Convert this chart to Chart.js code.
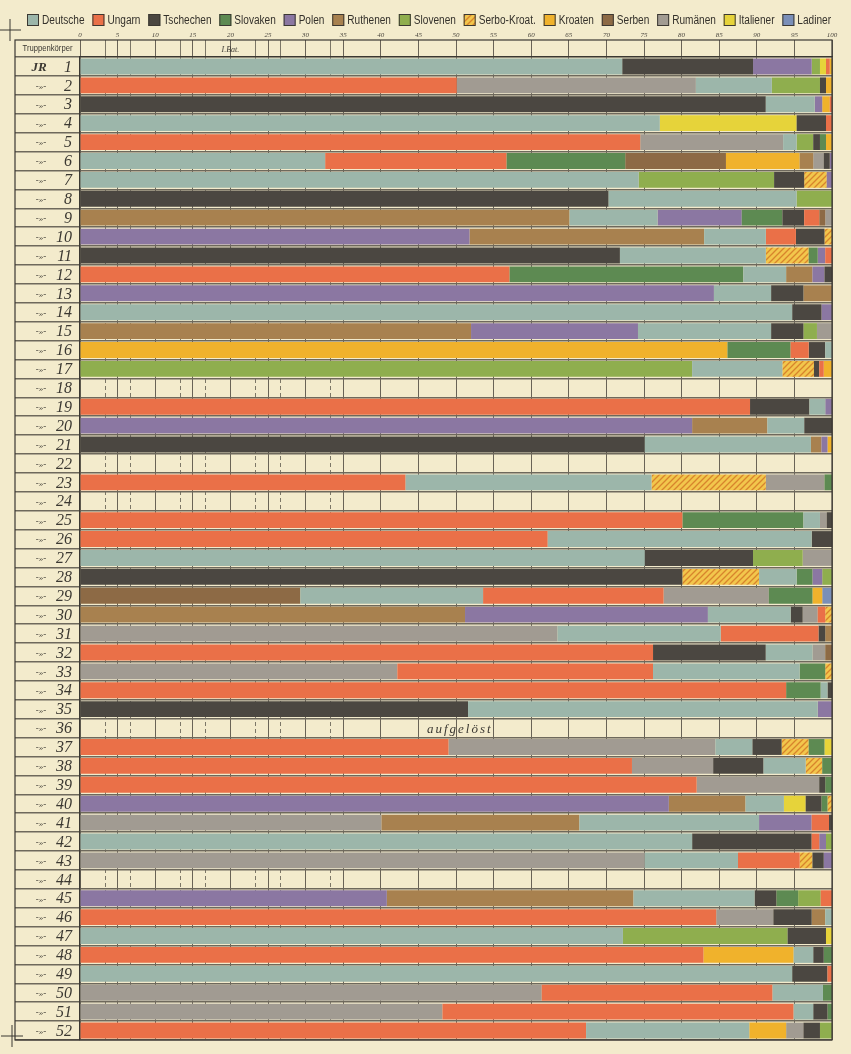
<!DOCTYPE html>
<html lang="de">
<head>
    <meta charset="UTF-8">
    <title>Nationalitäten der Truppenkörper</title>
    <script src="https://cdn.jsdelivr.net/npm/chart.js"></script>
    <style>
        html, body {
            margin: 0;
            padding: 0;
            background-color: #f3ebcc; /* old paper */
        }
        #wrap {
            position: relative;
            width: 851px;
            height: 1054px;
        }
    </style>
</head>
<body>
    <div id="wrap">
        <canvas id="chart"></canvas>
    </div>

    <script>
        // regiments IR 1 .. IR 52
        const regiments = Array.from({ length: 52 }, (_, i) => String(i + 1));

        const nations = ['Deutsche', 'Ungarn', 'Tschechen', 'Slovaken', 'Polen', 'Ruthenen', 'Slovenen',
                         'Serbo-Kroat.', 'Kroaten', 'Serben', 'Rumänen', 'Italiener', 'Ladiner'];
        const codes   = ['D', 'U', 'T', 'Sk', 'P', 'Ru', 'Sn', 'SK', 'K', 'Se', 'R', 'I', 'L'];

        // top scale ticks (per cent) and the dashed battalion scale
        const percentTicks = [0, 5, 10, 15, 20, 25, 30, 35, 40, 45, 50, 55, 60, 65, 70, 75, 80, 85, 90, 95, 100];
        const batTicks = [3.33, 6.67, 13.33, 16.67, 23.33, 26.67, 33.33];

        // order of the nationalities inside each bar, left to right
        const rowOrder = [
            ['D', 'T', 'P', 'Sn', 'I', 'U', 'K'],            // 1
            ['U', 'R', 'D', 'Sn', 'T', 'K'],                 // 2
            ['T', 'D', 'P', 'K', 'U'],                       // 3
            ['D', 'I', 'T', 'U'],                            // 4
            ['U', 'R', 'D', 'Sn', 'T', 'Sk', 'K'],           // 5
            ['D', 'U', 'Sk', 'Se', 'K', 'Ru', 'R', 'T', 'P'],// 6
            ['D', 'Sn', 'T', 'SK', 'P'],                     // 7
            ['T', 'D', 'Sn'],                                // 8
            ['Ru', 'D', 'P', 'Sk', 'T', 'U', 'Se', 'R'],     // 9
            ['P', 'Ru', 'D', 'U', 'T', 'SK'],                // 10
            ['T', 'D', 'SK', 'Sk', 'P', 'U'],                // 11
            ['U', 'Sk', 'D', 'Ru', 'P', 'T'],                // 12
            ['P', 'D', 'T', 'Ru'],                           // 13
            ['D', 'T', 'P'],                                 // 14
            ['Ru', 'P', 'D', 'T', 'Sn', 'R'],                // 15
            ['K', 'Sk', 'U', 'T', 'D'],                      // 16
            ['Sn', 'D', 'SK', 'T', 'U', 'K'],                // 17
            [],                                              // 18
            ['U', 'T', 'D', 'P'],                            // 19
            ['P', 'Ru', 'D', 'T'],                           // 20
            ['T', 'D', 'Ru', 'P', 'K'],                      // 21
            [],                                              // 22
            ['U', 'D', 'SK', 'R', 'Sk'],                     // 23
            [],                                              // 24
            ['U', 'Sk', 'D', 'R', 'T'],                      // 25
            ['U', 'D', 'T'],                                 // 26
            ['D', 'T', 'Sn', 'R'],                           // 27
            ['T', 'SK', 'D', 'Sk', 'P', 'Sn'],               // 28
            ['Se', 'D', 'U', 'R', 'Sk', 'K', 'L'],           // 29
            ['Ru', 'P', 'D', 'T', 'R', 'U', 'SK'],           // 30
            ['R', 'D', 'U', 'T', 'Ru'],                      // 31
            ['U', 'T', 'D', 'R', 'Se'],                      // 32
            ['R', 'U', 'D', 'Sk', 'SK'],                     // 33
            ['U', 'Sk', 'D', 'T'],                           // 34
            ['T', 'D', 'P'],                                 // 35
            [],                                              // 36 aufgelöst
            ['U', 'R', 'D', 'T', 'SK', 'Sk', 'I'],           // 37
            ['U', 'R', 'T', 'D', 'SK', 'Sk'],                // 38
            ['U', 'R', 'T', 'Sk'],                           // 39
            ['P', 'Ru', 'D', 'I', 'T', 'Sk', 'SK'],          // 40
            ['R', 'Ru', 'D', 'P', 'U', 'T'],                 // 41
            ['D', 'T', 'U', 'P', 'Sn'],                      // 42
            ['R', 'D', 'U', 'SK', 'T', 'P'],                 // 43
            [],                                              // 44
            ['P', 'Ru', 'D', 'T', 'Sk', 'Sn', 'U'],          // 45
            ['U', 'R', 'T', 'Ru', 'D'],                      // 46
            ['D', 'Sn', 'T', 'I'],                           // 47
            ['U', 'K', 'D', 'T', 'Sk'],                      // 48
            ['D', 'T', 'U'],                                 // 49
            ['R', 'U', 'D', 'Sk'],                           // 50
            ['R', 'U', 'D', 'T', 'Sk'],                      // 51
            ['U', 'D', 'K', 'R', 'T', 'Sn']                  // 52
        ];

        // shares in per cent, same order as rowOrder
        const rowShares = [
            [72.1, 17.4, 7.8, 1.1, 0.8, 0.5, 0.3],
            [50.1, 31.8, 10.1, 6.4, 0.8, 0.8],
            [91.2, 6.5, 1.0, 1.0, 0.3],
            [77.1, 18.2, 3.9, 0.8],
            [74.5, 19.0, 1.8, 2.2, 0.9, 0.8, 0.8],
            [32.6, 24.1, 15.8, 13.4, 9.8, 1.8, 1.4, 0.8, 0.3],
            [74.3, 18.0, 4.0, 3.0, 0.7],
            [70.3, 25.0, 4.7],
            [65.1, 11.7, 11.2, 5.4, 2.9, 2.0, 0.8, 0.9],
            [51.8, 31.2, 8.2, 4.0, 3.8, 1.0],
            [71.8, 19.4, 5.7, 1.2, 1.0, 0.9],
            [57.1, 31.1, 5.7, 3.5, 1.6, 1.0],
            [84.3, 7.6, 4.3, 3.8],
            [94.7, 3.9, 1.4],
            [52.0, 22.2, 17.7, 4.3, 1.8, 2.0],
            [86.1, 8.4, 2.4, 2.2, 0.9],
            [81.4, 12.0, 4.2, 0.7, 0.6, 1.1],
            [],
            [89.1, 7.9, 2.1, 0.9],
            [81.4, 10.0, 4.9, 3.7],
            [75.1, 22.1, 1.4, 0.8, 0.6],
            [],
            [43.3, 32.7, 15.2, 7.8, 1.0],
            [],
            [80.1, 16.1, 2.2, 0.9, 0.7],
            [62.2, 35.1, 2.7],
            [75.1, 14.4, 6.6, 3.9],
            [80.1, 10.2, 5.0, 2.1, 1.3, 1.3],
            [29.3, 24.3, 24.0, 14.0, 5.8, 1.3, 1.3],
            [51.2, 32.3, 11.0, 1.6, 2.0, 1.0, 0.9],
            [63.5, 21.7, 13.0, 0.9, 0.9],
            [76.2, 15.0, 6.2, 1.7, 0.9],
            [42.2, 34.0, 19.5, 3.4, 0.9],
            [93.9, 4.6, 0.9, 0.6],
            [51.6, 46.5, 1.9],
            [],
            [49.0, 35.5, 4.9, 3.9, 3.6, 2.1, 1.0],
            [73.4, 10.8, 6.7, 5.6, 2.2, 1.3],
            [82.0, 16.3, 0.8, 0.9],
            [78.3, 10.2, 5.1, 2.9, 2.1, 0.8, 0.6],
            [40.1, 26.3, 23.9, 7.0, 2.3, 0.4],
            [81.4, 15.9, 1.0, 0.9, 0.8],
            [75.1, 12.4, 8.2, 1.7, 1.5, 1.1],
            [],
            [40.8, 32.8, 16.1, 2.9, 2.9, 3.0, 1.5],
            [84.6, 7.6, 5.1, 1.8, 0.9],
            [72.2, 21.9, 5.1, 0.8],
            [82.9, 12.0, 2.6, 1.4, 1.1],
            [94.7, 4.7, 0.6],
            [61.4, 30.7, 6.7, 1.2],
            [48.2, 46.7, 2.6, 1.9, 0.6],
            [67.3, 21.7, 4.9, 2.3, 2.2, 1.6]
        ];

        const dissolved = { row: 35, text: 'aufgelöst' };

        // yellow with orange diagonal strokes for Serbo-Kroaten
        function hatchPattern() {
            const c = document.createElement('canvas');
            c.width = 6;
            c.height = 6;
            const g = c.getContext('2d');
            g.fillStyle = '#f2c64c';
            g.fillRect(0, 0, 6, 6);
            g.strokeStyle = '#d8842c';
            g.lineWidth = 1.3;
            g.beginPath();
            g.moveTo(0, 6); g.lineTo(6, 0);
            g.moveTo(-3, 3); g.lineTo(3, -3);
            g.moveTo(3, 9); g.lineTo(9, 3);
            g.stroke();
            return g.createPattern(c, 'repeat');
        }

        const colors = {
            D: '#9cb6aa', U: '#ea7048', T: '#4b4741', Sk: '#5d8a52', P: '#8b77a2',
            Ru: '#a8814f', Sn: '#8fae4e', SK: hatchPattern(), K: '#f0b22c', Se: '#8d6a45',
            R: '#a19b92', I: '#e6d33a', L: '#7a8fb8'
        };

        // floating bar [start, end] for every nationality in every regiment
        const datasets = codes.map((code, n) => ({
            label: nations[n],
            data: rowOrder.map((order, i) => {
                const k = order.indexOf(code);
                if (k < 0) return null;
                const start = rowShares[i].slice(0, k).reduce((a, b) => a + b, 0);
                return [start, start + rowShares[i][k]];
            }),
            backgroundColor: colors[code],
            borderWidth: 0,
            barPercentage: 0.84,
            categoryPercentage: 1.0,
            grouped: false
        }));

        const ink = '#3b3832';
        const serif = "'Liberation Serif', 'DejaVu Serif', serif";
        const sans = "'Liberation Sans', Arial, sans-serif";

        // one-line legend with condensed lettering, spread over the sheet width
        const sheetLegend = {
            id: 'sheetLegend',
            afterDraw(chart) {
                const { ctx, scales: { x, y } } = chart;
                const box = 12, gapText = 3, squeeze = 0.84;
                const cy = x.top - 13;
                ctx.save();
                ctx.font = '12px ' + sans;
                ctx.textBaseline = 'middle';
                const items = chart.data.datasets.map(ds => ({
                    label: ds.label, color: ds.backgroundColor,
                    w: ctx.measureText(ds.label).width * squeeze
                }));
                const x0 = y.left + 12, x1 = x.right - 1;
                const used = items.reduce((s, it) => s + box + gapText + it.w, 0);
                const gap = (x1 - x0 - used) / (items.length - 1);
                let px = x0;
                items.forEach(it => {
                    ctx.fillStyle = it.color;
                    ctx.fillRect(px, cy - box / 2, box, box);
                    ctx.strokeStyle = ink;
                    ctx.lineWidth = 1;
                    ctx.strokeRect(px + 0.5, cy - box / 2 + 0.5, box - 1, box - 1);
                    ctx.save();
                    ctx.translate(px + box + gapText, cy);
                    ctx.scale(squeeze, 1);
                    ctx.fillStyle = '#34312b';
                    ctx.fillText(it.label, 0, 1);
                    ctx.restore();
                    px += box + gapText + it.w + gap;
                });
                ctx.restore();
            }
        };

        // label column, header cell, "aufgelöst" and frame
        const sheetDecor = {
            id: 'sheetDecor',
            afterDraw(chart) {
                const { ctx, chartArea: a, scales: { x, y } } = chart;
                const headTop = a.top - x.options.grid.tickLength;
                ctx.save();

                ctx.strokeStyle = ink;
                ctx.lineWidth = 1.2;
                ctx.strokeRect(y.left, headTop, a.right - y.left, a.bottom - headTop);

                ctx.fillStyle = ink;
                ctx.textBaseline = 'middle';
                ctx.save();
                ctx.translate((y.left + a.left) / 2, (headTop + a.top) / 2);
                ctx.scale(0.85, 1);
                ctx.font = '9px ' + sans;
                ctx.textAlign = 'center';
                ctx.fillText('Truppenkörper', 0, 0);
                ctx.restore();
                ctx.textAlign = 'center';
                ctx.font = 'italic 8px ' + serif;
                ctx.fillText('I.Bat.', x.getPixelForValue(20), (headTop + a.top) / 2 + 1);

                regiments.forEach((r, i) => {
                    const py = y.getPixelForValue(i) + 1;
                    ctx.font = 'italic 16px ' + serif;
                    ctx.textAlign = 'right';
                    ctx.fillText(r, a.left - 8, py);
                    ctx.textAlign = 'center';
                    if (i === 0) {
                        ctx.font = 'italic bold 13px ' + serif;
                        ctx.fillText('JR', y.left + 24, py);
                    } else {
                        ctx.font = 'italic 9px ' + serif;
                        ctx.fillText('-»-', y.left + 26, py);
                    }
                });

                ctx.font = 'italic 13px ' + serif;
                ctx.letterSpacing = '2px';
                ctx.textAlign = 'center';
                ctx.fillText(dissolved.text, x.getPixelForValue(50.5), y.getPixelForValue(dissolved.row) + 1);
                ctx.letterSpacing = '0px';

                // registration crosses
                ctx.lineWidth = 1;
                [[y.left - 5, headTop - 10], [y.left - 3, a.bottom - 4]].forEach(([cx, cy]) => {
                    ctx.beginPath();
                    ctx.moveTo(cx - 11, cy); ctx.lineTo(cx + 11, cy);
                    ctx.moveTo(cx, cy - 11); ctx.lineTo(cx, cy + 11);
                    ctx.stroke();
                });
                ctx.restore();
            }
        };

        new Chart(document.getElementById('chart'), {
            type: 'bar',
            data: { labels: regiments, datasets: datasets },
            plugins: [sheetLegend, sheetDecor],
            options: {
                indexAxis: 'y',
                responsive: true,
                maintainAspectRatio: false,
                animation: false,
                layout: { padding: { left: 15, right: 19, top: 33, bottom: 14 } },
                scales: {
                    x: {
                        position: 'top',
                        min: 0,
                        max: 100,
                        z: 1,
                        weight: 1,
                        afterBuildTicks: s => { s.ticks = percentTicks.map(v => ({ value: v })); },
                        afterFit: s => { s.height = 24; },
                        grid: { color: 'rgba(45, 42, 35, 0.7)', lineWidth: 1, tickLength: 17 },
                        border: { color: ink, width: 1.2 },
                        ticks: {
                            padding: 1,
                            maxRotation: 0,
                            color: '#4a463e',
                            font: { family: serif, size: 7, style: 'italic' }
                        }
                    },
                    x2: {
                        position: 'top',
                        axis: 'x',
                        min: 0,
                        max: 100,
                        z: 1,
                        weight: 0,
                        afterBuildTicks: s => { s.ticks = batTicks.map(v => ({ value: v })); },
                        afterFit: s => { s.height = 0; },
                        grid: { color: 'rgba(45, 42, 35, 0.6)', lineWidth: 1, tickLength: 17 },
                        border: { display: false, dash: [4, 3] },
                        ticks: { display: false }
                    },
                    y: {
                        afterFit: s => { s.width = 65; },
                        grid: { offset: true, color: '#6e695c', lineWidth: 1.4, tickLength: 65 },
                        border: { color: ink, width: 1.2 },
                        ticks: { display: false }
                    }
                },
                plugins: {
                    tooltip: { enabled: false },
                    legend: { display: false }
                }
            }
        });
    </script>
</body>
</html>
